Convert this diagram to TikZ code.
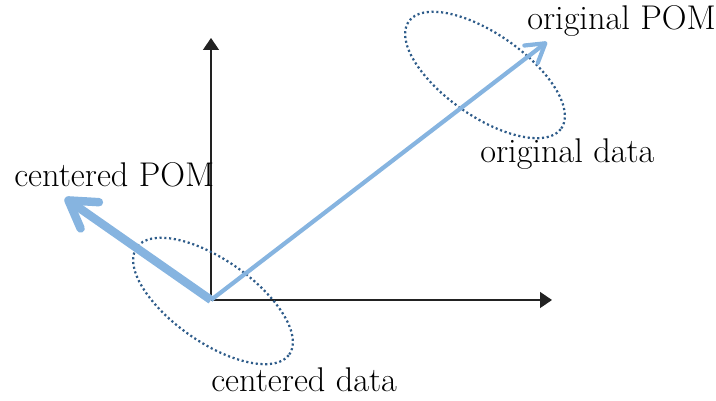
\documentclass[tikz,border=0pt]{standalone}
\usetikzlibrary{arrows.meta}
\definecolor{pom}{HTML}{86B4E0}
\definecolor{cloud}{HTML}{2E5C8A}
\definecolor{axisgray}{HTML}{222222}
\tikzset{
  axisline/.style={-{Triangle[length=3mm, width=4mm]}, axisgray, line width=1pt},
  pomarrow/.style={-{Straight Barb[round, length=4.5mm, width=5.5mm]}, pom, line width=3pt},
  cpomarrow/.style={-{Straight Barb[round, length=6.5mm, width=8mm]}, pom, line width=6pt},
  datacloud/.style={cloud, line width=1.6pt, dash pattern=on 1.5pt off 1.9pt},
  lbl/.style={font=\fontsize{24.4}{28}\selectfont, inner sep=0pt},
}

\begin{document}
\begin{tikzpicture}
  \useasboundingbox (0,0) rectangle (17.9,10.025);
  % axes
  \coordinate (O) at (5.275,2.525);
  \coordinate (xend) at (13.8,2.525);
  \coordinate (yend) at (5.275,9.075);
  \draw[axisline] (O) -- (xend);
  \draw[axisline] (O) -- (yend);
  % data clouds
  \coordinate (ccloud) at (5.325,2.5);
  \coordinate (ocloud) at (12.125,8.15);
  \draw[datacloud, rotate around={-35:(ccloud)}] (ccloud) ellipse (2.33 and 1.03);
  \draw[datacloud, rotate around={-35:(ocloud)}] (ocloud) ellipse (2.33 and 1.03);
  % POM vectors
  \coordinate (otip) at (13.675,8.975);
  \coordinate (ctip) at (1.625,5.075);
  \draw[pomarrow] (O) -- (otip);
  \draw[cpomarrow] (O) -- (ctip);
  % labels
  \node[lbl, anchor=base west] (opom) at (13.175,9.275) {original POM};
  \node[lbl, anchor=base west] (odata) at (12.0,5.95) {original data};
  \node[lbl, anchor=base west] (cpom) at (0.35,5.35) {centered POM};
  \node[lbl, anchor=base west] (cdata) at (5.275,0.225) {centered data};
\end{tikzpicture}
\end{document}
